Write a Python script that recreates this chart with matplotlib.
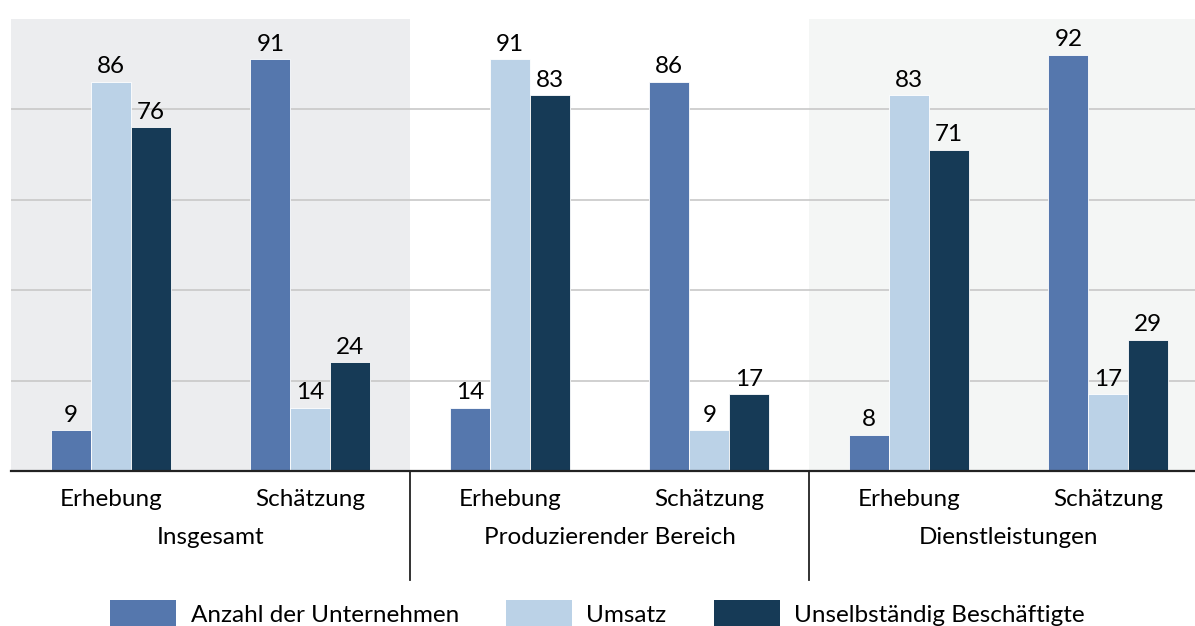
import numpy as np
import matplotlib.pyplot as plt
from matplotlib.patches import Patch
import matplotlib.transforms as mtransforms

plt.rcParams['font.family'] = ['Lato', 'DejaVu Sans']

groups = ['Insgesamt', 'Produzierender Bereich', 'Dienstleistungen']
methods = ['Erhebung', 'Schätzung']
series = ['Anzahl der Unternehmen', 'Umsatz', 'Unselbständig Beschäftigte']
colors = ['#5577ad', '#bbd2e7', '#163a56']

# values per category: Insgesamt Erhebung, Insgesamt Schätzung, Produz. Erhebung, ...
anzahl = [9, 91, 14, 86, 8, 92]
umsatz = [86, 14, 91, 9, 83, 17]
beschaeftigte = [76, 24, 83, 17, 71, 29]
values = [anzahl, umsatz, beschaeftigte]

W, H = 1195, 626
fig = plt.figure(figsize=(W / 100, H / 100), dpi=100)
ax = fig.add_axes([11 / W, (H - 471) / H, (W - 11) / W, 452.5 / H])

x = np.arange(len(anzahl))
bw = 0.2
fs = 17.5

ax.axvspan(-0.5, 1.5, color='#ecedef', zorder=0, lw=0)
ax.axvspan(3.5, 5.5, color='#f4f6f5', zorder=0, lw=0)
for gy in [20, 40, 60, 80]:
    ax.axhline(gy, color='#c8c8c8', lw=1.2, zorder=1)

for i, (vals, col) in enumerate(zip(values, colors)):
    pos = x + (i - 1) * bw
    bars = ax.bar(pos, vals, width=bw, color=col, edgecolor='white', lw=0.6, zorder=2)
    for b, v in zip(bars, vals):
        ax.text(b.get_x() + b.get_width() / 2, v + 1.0, str(v), ha='center',
                va='bottom', fontsize=fs, color='black')

ax.set_xlim(-0.5, 5.5 - 13 / 199.5)
ax.set_ylim(0, 100)
for s in ['top', 'right', 'left']:
    ax.spines[s].set_visible(False)
ax.spines['bottom'].set_color('#222222')
ax.spines['bottom'].set_linewidth(1.6)
ax.set_yticks([])
ax.set_xticks([])

trans = mtransforms.blended_transform_factory(ax.transData, ax.transAxes)
for k in range(len(x)):
    ax.text(x[k], -29 / 452.5, methods[k % 2], transform=trans, ha='center',
            va='center', fontsize=fs)
for g, name in enumerate(groups):
    ax.text(2 * g + 0.5, -67 / 452.5, name, transform=trans, ha='center',
            va='center', fontsize=fs)
for sep in [1.5, 3.5]:
    ax.plot([sep, sep], [0, -109 / 452.5], transform=trans, color='#222222',
            lw=1.3, clip_on=False)

handles = [Patch(facecolor=c, edgecolor='none') for c in colors]
fig.legend(handles, series, loc='center', bbox_to_anchor=(0.5, 12 / H), ncol=3,
           frameon=False, fontsize=fs, handlelength=2.7, handleheight=1.4,
           handletextpad=0.6, columnspacing=1.95)

fig.savefig('out.png', dpi=100)
